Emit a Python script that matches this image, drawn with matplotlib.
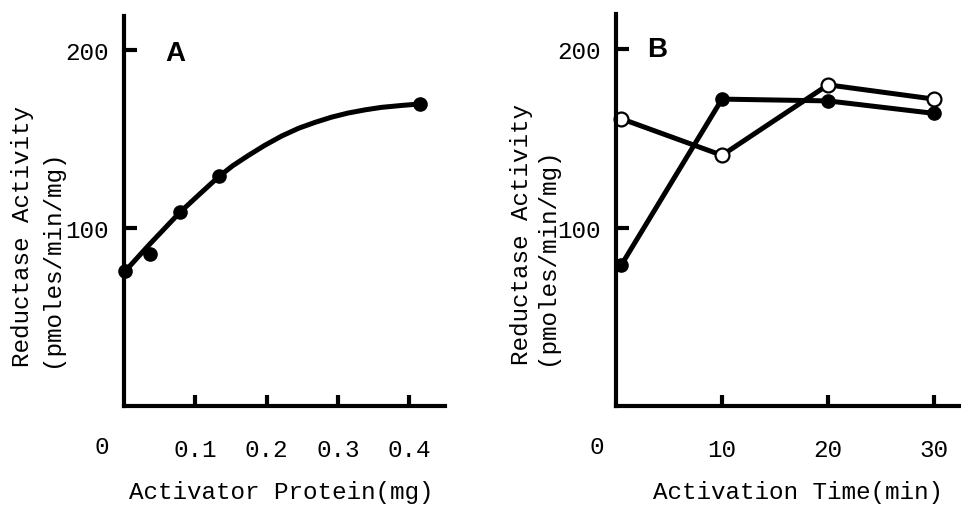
import matplotlib
matplotlib.use("Agg")
import matplotlib.pyplot as plt

# Panel A: activity vs activator protein
protein_mg = [0.0014, 0.036, 0.0785, 0.133, 0.415]
activity_a = [75.8, 85.3, 108.8, 129, 169.6]
# smooth hand-drawn curve
curve_x = [0.0, 0.034, 0.0785, 0.105, 0.132, 0.152, 0.174, 0.197, 0.221,
           0.245, 0.268, 0.291, 0.314, 0.338, 0.361, 0.39, 0.415]
curve_y = [75, 90, 108.8, 118.6, 128.5, 134.8, 140.6, 146.3, 151.6, 156.0,
           159.3, 162.2, 164.5, 166.3, 167.7, 168.8, 169.6]

# Panel B: activity vs activation time
time_min = [0.5, 10, 20, 30]
activity_filled = [79, 172, 171, 164]
activity_open = [161, 140.5, 180, 172]

font = "Liberation Mono"
fs = 17.5
W, H = 962, 506

fig = plt.figure(figsize=(W / 100, H / 100), dpi=100)
axA = fig.add_axes([124 / W, 1 - 407 / H, (445 - 124) / W, (407 - 17) / H])
axB = fig.add_axes([616 / W, 1 - 407 / H, (962 - 616) / W, (407 - 15) / H])

for ax in (axA, axB):
    for s in ("top", "right"):
        ax.spines[s].set_visible(False)
    for s in ("left", "bottom"):
        ax.spines[s].set_linewidth(3)
        ax.spines[s].set_capstyle("projecting")
    ax.set_yticks([100, 200])
    ax.tick_params(axis="y", direction="in", length=9, width=3, pad=11,
                   labelsize=fs)
    ax.tick_params(axis="x", direction="in", length=8, width=3, pad=23,
                   labelsize=fs)

# --- A ---
axA.set_xlim(0, 0.45)
axA.set_ylim(0, 219)
axA.set_xticks([0.1, 0.2, 0.3, 0.4])
axA.set_xticklabels(["0.1", "0.2", "0.3", "0.4"], fontfamily=font)
axA.set_yticklabels(["100", "200"], fontfamily=font)
axA.plot(curve_x, curve_y, color="black", lw=3.6, solid_capstyle="round",
         solid_joinstyle="round", clip_on=False)
axA.plot(protein_mg, activity_a, "o", color="black", ms=9.5, clip_on=False)
axA.text(-0.031, -0.103, "0", transform=axA.get_xaxis_transform(),
         ha="center", va="center", fontsize=fs, fontfamily=font)
axA.text(0.13, 0.905, "A", transform=axA.transAxes, fontsize=20,
         fontweight="bold", fontfamily="Liberation Sans", ha="left",
         va="center")

# --- B ---
axB.set_xlim(0, (962 - 616) / 10.6)
axB.set_ylim(0, 219.7)
axB.set_xticks([10, 20, 30])
axB.set_xticklabels(["10", "20", "30"], fontfamily=font)
axB.set_yticklabels(["100", "200"], fontfamily=font)
axB.plot(time_min, activity_filled, "-o", color="black", lw=3.6, ms=9.5,
         solid_joinstyle="round", clip_on=False)
axB.plot(time_min, activity_open, "-o", color="black", lw=3.6, ms=10,
         mfc="white", mec="black", mew=1.6, solid_joinstyle="round",
         clip_on=False)
axB.text(-1.8, -0.103, "0", transform=axB.get_xaxis_transform(),
         ha="center", va="center", fontsize=fs, fontfamily=font)
axB.text(0.09, 0.91, "B", transform=axB.transAxes, fontsize=20,
         fontweight="bold", fontfamily="Liberation Sans", ha="left",
         va="center")

# axis titles
ylab = "Reductase Activity\n(pmoles/min/mg)"
fig.text(37 / W, 1 - 367 / H, ylab, rotation=90, ha="center", va="bottom",
         multialignment="left", fontsize=fs, fontfamily=font, linespacing=1.3)
fig.text(534 / W, 1 - 365 / H, ylab, rotation=90, ha="center", va="bottom",
         multialignment="left", fontsize=fs, fontfamily=font, linespacing=1.15)
fig.text(281 / W, 1 - 493 / H, "Activator Protein(mg)", ha="center",
         va="center", fontsize=fs, fontfamily=font)
fig.text(798 / W, 1 - 493 / H, "Activation Time(min)", ha="center",
         va="center", fontsize=fs, fontfamily=font)

fig.savefig("out.png", dpi=100)
